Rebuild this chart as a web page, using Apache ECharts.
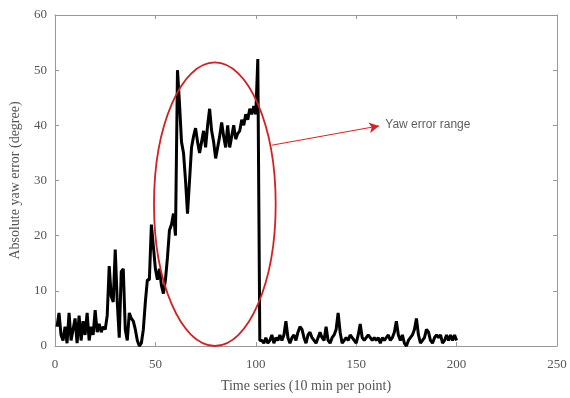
<!DOCTYPE html>
<html>
<head>
<meta charset="utf-8">
<script src="https://cdn.jsdelivr.net/npm/echarts@6/dist/echarts.min.js"></script>
<style>html,body{margin:0;padding:0;background:#fff}#c{width:570px;height:398px}</style>
</head>
<body>
<div id="c"></div>
<script>
// Time index (10 min per point)
const timeIndex = Array.from({length: 200}, (_, i) => i + 1);
// Absolute yaw error (degree)
const yawError = [
  3.5, 6, 2, 1, 3.5, 0.5, 6, 1, 3, 5,
  0.5, 5.5, 1, 4.5, 2, 6, 1, 3.5, 2, 6.5,
  2.5, 4, 2.5, 3.5, 3, 5.5, 14.5, 9, 8, 17.5,
  8, 1.5, 13.5, 14, 3, 1, 6, 5, 4.5, 3,
  1, 0, 0.5, 3, 8, 12, 12, 22, 18, 14,
  12, 14, 11, 9.5, 12, 16, 21, 22, 24, 20,
  50, 44, 37, 35, 30, 24, 30, 36, 38, 39.5,
  37, 35, 37, 39, 36, 40, 43, 39, 37, 34,
  36, 38, 40.5, 38, 36, 40, 36, 38, 40, 37.5,
  38.5, 39, 41, 40, 42, 41, 43, 42, 43.5, 42,
  52, 1, 1, 0.5, 1.5, 0.5, 1, 2, 0.5, 1.5,
  1, 2, 1, 2, 4.5, 1.5, 0.5, 1.5, 2, 1,
  2.5, 3.5, 3, 1.5, 0.5, 2, 2.5, 1.5, 1, 0.5,
  1.5, 2.5, 1.5, 1, 3.5, 1, 0.5, 1.5, 2, 3,
  6, 2.5, 0.5, 1, 1.5, 1, 2, 1.5, 1, 0.5,
  2, 4, 1.5, 1, 1.5, 2, 1.5, 1, 1.5, 1,
  1.5, 0.5, 1.5, 1, 1.5, 2, 1, 1.5, 2.5, 4.5,
  2, 1, 2, 0.5, 0, 1, 1.5, 2, 3, 5,
  2, 0.5, 1, 1.5, 3, 2.5, 1, 0.5, 1.5, 2,
  1.5, 2, 0.5, 1, 2, 1, 2, 1, 2, 1
];
// Axis ticks
const xTicks = [0, 50, 100, 150, 200, 250];
const yTicks = [0, 10, 20, 30, 40, 50, 60];
// Annotation: ellipse [centerX, centerY, radiusX, radiusY] in data units
const ellipseSpec = [79.6, 25.7, 30.3, 25.7];
// Arrow from / to (data units) and label
const arrowFrom = [108, 36.4];
const arrowTo = [161.4, 39.9];
const annotationText = 'Yaw error range';
const annotationPos = [164.5, 40.2];

const serif = '"Liberation Serif", "DejaVu Serif", serif';
const labelColor = '#555';
const axisColor = '#999';

const chart = echarts.init(document.getElementById('c'), null, {renderer: 'canvas'});
const lineData = timeIndex.map((t, i) => [t, yawError[i]]);

const baseX = {
  type: 'value', min: xTicks[0], max: xTicks[xTicks.length - 1], interval: 50,
  axisLine: {show: true, onZero: false, lineStyle: {color: axisColor, width: 1}},
  axisTick: {show: true, inside: true, length: 4, lineStyle: {color: axisColor}},
  splitLine: {show: false}
};
const baseY = {
  type: 'value', min: yTicks[0], max: yTicks[yTicks.length - 1], interval: 10,
  axisLine: {show: true, onZero: false, lineStyle: {color: axisColor, width: 1}},
  axisTick: {show: true, inside: true, length: 4, lineStyle: {color: axisColor}},
  splitLine: {show: false}
};

chart.setOption({
  animation: false,
  backgroundColor: '#fff',
  grid: {left: 49, right: 13, top: 15, bottom: 52, containLabel: false},
  xAxis: [
    Object.assign({}, baseX, {
      position: 'bottom',
      name: 'Time series (10 min per point)', nameLocation: 'middle', nameGap: 33,
      nameTextStyle: {fontFamily: serif, fontSize: 14, color: labelColor},
      axisLabel: {fontFamily: serif, fontSize: 13, color: labelColor, margin: 12}
    }),
    Object.assign({}, baseX, {position: 'top', axisLabel: {show: false}})
  ],
  yAxis: [
    Object.assign({}, baseY, {
      position: 'left',
      name: 'Absolute yaw error (degree)', nameLocation: 'middle', nameGap: 33,
      nameTextStyle: {fontFamily: serif, fontSize: 14, color: labelColor},
      axisLabel: {fontFamily: serif, fontSize: 13, color: labelColor, margin: 8}
    }),
    Object.assign({}, baseY, {position: 'right', axisLabel: {show: false}})
  ],
  series: [
    {
      type: 'line', data: lineData, showSymbol: false, symbol: 'none',
      lineStyle: {color: '#000', width: 3}, z: 3,
      markLine: {
        silent: true, symbol: ['none', 'arrow'], symbolSize: [8, 10],
        lineStyle: {color: '#e02020', width: 1, type: 'solid'},
        label: {show: false},
        data: [[{coord: arrowFrom}, {coord: arrowTo}]]
      }
    },
    {
      type: 'custom', silent: true, z: 4,
      data: [ellipseSpec],
      renderItem: function (params, api) {
        const c = api.coord([api.value(0), api.value(1)]);
        const s = api.size([api.value(2), api.value(3)]);
        return {
          type: 'ellipse',
          shape: {cx: c[0], cy: c[1], rx: s[0], ry: s[1]},
          style: {fill: 'none', stroke: '#d42020', lineWidth: 1.8}
        };
      }
    },
    {
      type: 'scatter', silent: true, symbolSize: 0,
      data: [annotationPos],
      label: {
        show: true, position: 'right', distance: 0, formatter: annotationText,
        fontFamily: '"Liberation Sans", Arial, sans-serif', fontSize: 12, color: '#333'
      }
    }
  ]
});
</script>
</body>
</html>
